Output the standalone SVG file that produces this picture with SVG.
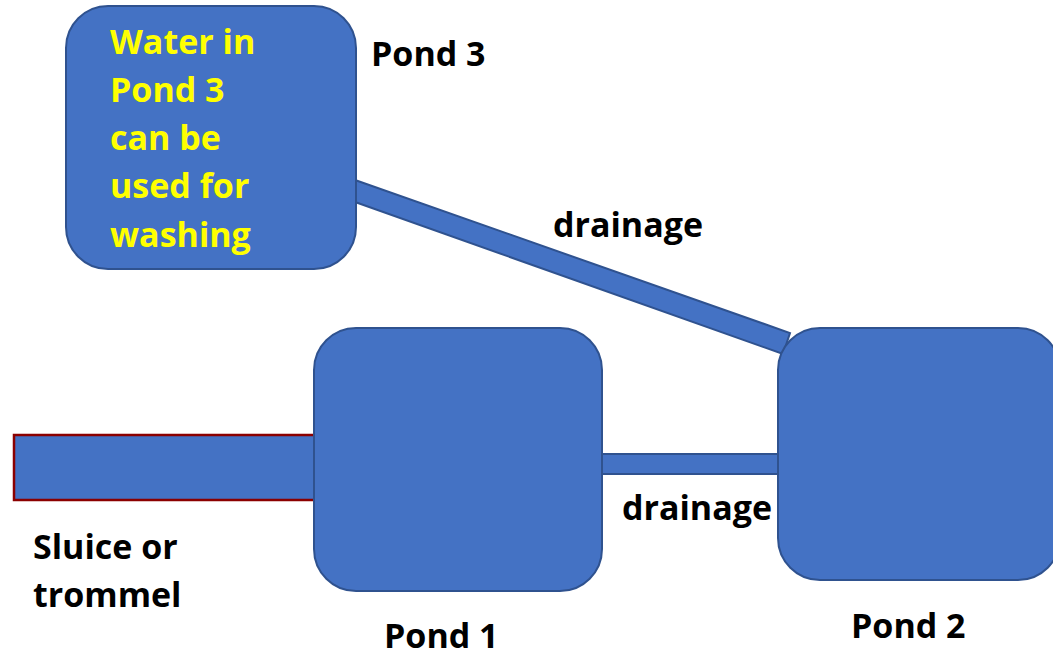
<svg xmlns="http://www.w3.org/2000/svg" width="1053" height="657" viewBox="0 0 1053 657">
<style>
.shape{fill:#4472C4;stroke:#2F528F;stroke-width:2}
.lbl{font-family:"Open Sans","Liberation Sans",sans-serif;font-weight:bold;font-size:34px;fill:#000}
.ylw{font-family:"Open Sans","Liberation Sans",sans-serif;font-weight:bold;font-size:34px;fill:#FFFF00}
</style>
<rect width="1053" height="657" fill="#fff"/>
<g id="connectors">
<polygon class="shape" points="355,180 790,333 783,354 355,202"/>
<rect class="shape" x="596" y="454" width="190" height="20"/>
<rect id="sluice" x="14" y="435" width="306" height="65" fill="#4472C4" stroke="#8B0000" stroke-width="2.5"/>
</g>
<g id="pond3"><rect class="shape" x="66" y="6" width="290" height="263" rx="42"/>
<text class="ylw" x="110" y="54">Water in</text>
<text class="ylw" x="110" y="102">Pond 3</text>
<text class="ylw" x="110" y="150">can be</text>
<text class="ylw" x="110" y="198">used for</text>
<text class="ylw" x="110" y="247">washing</text>
</g>
<g id="pond1"><rect class="shape" x="314" y="328" width="288" height="263" rx="42"/></g>
<g id="pond2"><rect class="shape" x="778" y="328" width="282" height="252" rx="42"/></g>
<g id="labels">
<text class="lbl" x="371" y="66">Pond 3</text>
<text class="lbl" x="553" y="237">drainage</text>
<text class="lbl" x="622" y="520">drainage</text>
<text class="lbl" x="33" y="559">Sluice or</text>
<text class="lbl" x="33" y="607">trommel</text>
<text class="lbl" x="384" y="648">Pond 1</text>
<text class="lbl" x="851" y="638">Pond 2</text>
</g>
</svg>
